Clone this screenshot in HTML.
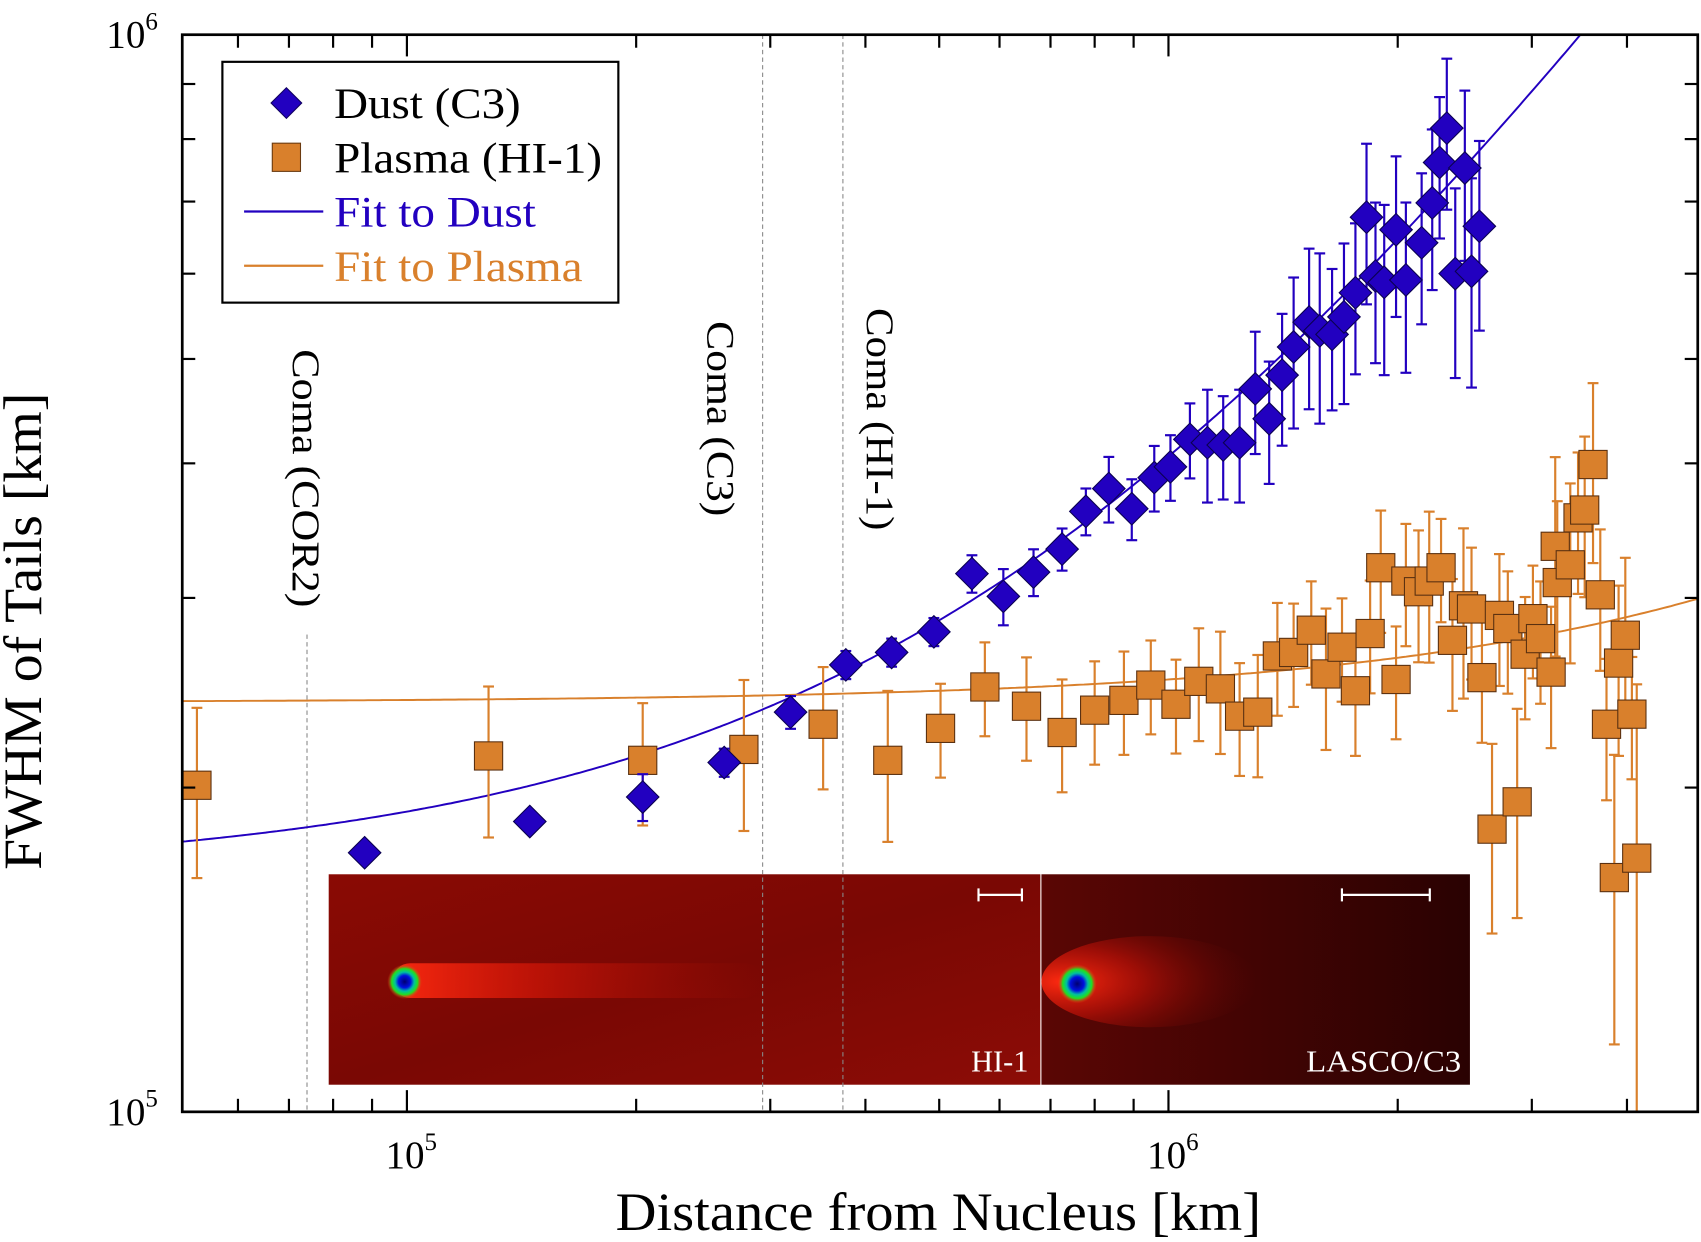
<!DOCTYPE html>
<html><head><meta charset="utf-8"><style>
html,body{margin:0;padding:0;background:#fff;}
svg{display:block;}
text{font-family:"Liberation Serif",serif;}
</style></head><body>
<svg id="chart" width="1701" height="1242" viewBox="0 0 1568 1145" preserveAspectRatio="none" xmlns="http://www.w3.org/2000/svg">
<defs>
<linearGradient id="hiBg" x1="0" y1="0" x2="1" y2="1"><stop offset="0" stop-color="#8a0a04"/><stop offset="0.5" stop-color="#7a0804"/><stop offset="1" stop-color="#8c0c06"/></linearGradient>
<linearGradient id="c3Bg" x1="0" y1="0" x2="1" y2="0"><stop offset="0" stop-color="#5a0604"/><stop offset="1" stop-color="#2a0202"/></linearGradient>
<linearGradient id="tail1" x1="0" y1="0" x2="1" y2="0"><stop offset="0" stop-color="#ff2a10" stop-opacity="0.95"/><stop offset="0.4" stop-color="#e01808" stop-opacity="0.6"/><stop offset="1" stop-color="#b01006" stop-opacity="0"/></linearGradient>
<radialGradient id="tail2" cx="0.1" cy="0.5" r="0.9"><stop offset="0" stop-color="#ff2a10"/><stop offset="0.4" stop-color="#c01208" stop-opacity="0.7"/><stop offset="1" stop-color="#600604" stop-opacity="0"/></radialGradient>
<radialGradient id="head" cx="0.5" cy="0.5" r="0.5"><stop offset="0" stop-color="#000070"/><stop offset="0.35" stop-color="#0010e0"/><stop offset="0.55" stop-color="#00c0a0"/><stop offset="0.75" stop-color="#20e020"/><stop offset="1" stop-color="#ff3010" stop-opacity="0"/></radialGradient>
</defs>
<g id="insets">
 <rect x="303" y="806" width="656" height="194" fill="url(#hiBg)"/>
 <rect x="362" y="888" width="340" height="32" fill="url(#tail1)" rx="16"/>
 <circle cx="373" cy="905" r="16" fill="url(#head)"/>
 <line x1="902" y1="825" x2="942" y2="825" stroke="#fff" stroke-width="2"/><line x1="902" y1="819" x2="902" y2="831" stroke="#fff" stroke-width="2"/><line x1="942" y1="819" x2="942" y2="831" stroke="#fff" stroke-width="2"/>
 <text x="948" y="988" font-size="28" fill="#fff" text-anchor="end">HI-1</text>
 <rect x="960" y="806" width="395" height="194" fill="url(#c3Bg)"/>
 <ellipse cx="1060" cy="905" rx="100" ry="42" fill="url(#tail2)"/>
 <circle cx="993" cy="907" r="18" fill="url(#head)"/>
 <line x1="1237" y1="825" x2="1318" y2="825" stroke="#fff" stroke-width="2"/><line x1="1237" y1="819" x2="1237" y2="831" stroke="#fff" stroke-width="2"/><line x1="1318" y1="819" x2="1318" y2="831" stroke="#fff" stroke-width="2"/>
 <text x="1347" y="988" font-size="28" fill="#fff" text-anchor="end" textLength="143" lengthAdjust="spacingAndGlyphs">LASCO/C3</text>
</g>
<g id="coma">
 <line x1="283" y1="585" x2="283" y2="1025" stroke="#888" stroke-width="1" stroke-dasharray="4,3"/>
 <line x1="703" y1="32" x2="703" y2="1025" stroke="#888" stroke-width="1" stroke-dasharray="4,3"/>
 <line x1="777" y1="32" x2="777" y2="1025" stroke="#888" stroke-width="1" stroke-dasharray="4,3"/>
 <text transform="translate(270,322) rotate(90)" font-size="36" textLength="238" lengthAdjust="spacingAndGlyphs">Coma  (COR2)</text>
 <text transform="translate(652,296) rotate(90)" font-size="36" textLength="180" lengthAdjust="spacingAndGlyphs">Coma (C3)</text>
 <text transform="translate(799,284) rotate(90)" font-size="36" textLength="205" lengthAdjust="spacingAndGlyphs">Coma (HI-1)</text>
</g>
<g id="fits"></g>
<g id="plasma"></g>
<g id="dust"></g>
<g id="axes"></g>
<g id="legend">
 <rect x="205" y="57" width="365" height="222" fill="#fff" stroke="#000" stroke-width="2"/>
 <g><rect x="254" y="85" width="20" height="20" transform="rotate(45 264 95)" fill="#2200c0" stroke="#100060"/><text x="308" y="109" font-size="40" textLength="172" lengthAdjust="spacingAndGlyphs">Dust (C3)</text></g>
 <g><rect x="251" y="132" width="26" height="26" fill="#d9802c" stroke="#6a3a10"/><text x="308" y="159" font-size="40" textLength="247" lengthAdjust="spacingAndGlyphs">Plasma (HI-1)</text></g>
 <g><line x1="225" y1="195" x2="298" y2="195" stroke="#2200c0" stroke-width="2"/><text x="308" y="209" font-size="40" fill="#2200c0" textLength="186" lengthAdjust="spacingAndGlyphs">Fit to Dust</text></g>
 <g><line x1="225" y1="245" x2="298" y2="245" stroke="#d9802c" stroke-width="2"/><text x="308" y="259" font-size="40" fill="#d9802c" textLength="229" lengthAdjust="spacingAndGlyphs">Fit to Plasma</text></g>
</g>
<text x="865" y="1134" font-size="50" text-anchor="middle" textLength="595" lengthAdjust="spacingAndGlyphs">Distance from Nucleus [km]</text>
<text transform="translate(38,582) rotate(-90)" font-size="50" text-anchor="middle" textLength="440" lengthAdjust="spacingAndGlyphs">FWHM of Tails [km]</text>
</svg>
<script>
const dustDist = [88000,145000,204000,261000,319000,377000,433000,492000,552000,607000,665000,725000,779000,835000,895000,958000,1006000,1067000,1125000,1180000,1240000,1300000,1356000,1410000,1460000,1530000,1580000,1640000,1700000,1760000,1820000,1870000,1920000,1990000,2050000,2150000,2220000,2270000,2320000,2380000,2450000,2500000,2560000];
const dustFwhm = [174000,186000,196000,211000,235000,260000,267000,279000,316000,301000,317000,333000,361000,379000,363000,388000,397000,421000,418000,416000,418000,469000,440000,483000,513000,541000,531000,527000,547000,576000,677000,597000,589000,659000,592000,641000,698000,761000,819000,600000,752000,603000,664000];
const dustErrFrac = [0,0,0.05,0.03,0.035,0.03,0.03,0.03,0.04,0.06,0.05,0.045,0.05,0.07,0.065,0.07,0.07,0.08,0.12,0.11,0.12,0.13,0.13,0.14,0.16,0.17,0.18,0.15,0.17,0.16,0.17,0.17,0.18,0.17,0.18,0.16,0.17,0.15,0.16,0.2,0.18,0.22,0.2];
const plasmaDist = [53000,128000,204000,277000,352000,428000,502000,574000,651000,725000,800000,874000,948000,1023000,1096000,1170000,1240000,1310000,1390000,1460000,1540000,1610000,1690000,1760000,1840000,1900000,1990000,2050000,2130000,2200000,2280000,2360000,2440000,2500000,2580000,2660000,2720000,2790000,2870000,2940000,3010000,3080000,3180000,3240000,3220000,3370000,3450000,3520000,3610000,3690000,3760000,3850000,3900000,3980000,4060000,4120000];
const plasmaFwhm = [201000,214000,212000,217000,229000,212000,227000,248000,238000,225000,236000,241000,249000,239000,251000,247000,233000,235000,265000,267000,280000,255000,270000,246000,278000,320000,252000,311000,304000,311000,320000,274000,295000,293000,253000,183000,289000,281000,194000,266000,287000,275000,256000,310000,335000,322000,356000,362000,399000,302000,229000,165000,261000,277000,234000,172000];
const plasmaErrFrac = [0.18,0.16,0.13,0.16,0.13,0.16,0.10,0.10,0.11,0.12,0.11,0.11,0.10,0.10,0.12,0.13,0.12,0.13,0.12,0.11,0.11,0.15,0.11,0.13,0.12,0.13,0.12,0.13,0.14,0.16,0.11,0.14,0.18,0.14,0.13,0.2,0.14,0.13,0.22,0.13,0.12,0.13,0.15,0.19,0.21,0.19,0.15,0.17,0.19,0.15,0.15,0.3,0.18,0.18,0.13,0.45];
const dustFitIntercept = 166000, dustFitSlope = 0.24;
const plasmaFitIntercept = 240000, plasmaFitSlope = 0.012;
const xTickMajor = [100000,1000000];
const xTickMajorLabels = ["5","6"];
const xTickMinor = [60000,70000,80000,90000,200000,300000,400000,500000,600000,700000,800000,900000,2000000,3000000,4000000];
const yTickMajorLabels = ["5","6"];
const yTickMinor = [200000,300000,400000,500000,600000,700000,800000,900000];

const NS = "http://www.w3.org/2000/svg";
const L = 168, R = 1565, T = 32, B = 1025;
const X0 = 4.705, X1 = 6.695;
function xs(v){ return L + (Math.log10(v) - X0) / (X1 - X0) * (R - L); }
function ys(v){ return B - (Math.log10(v) - 5) * (B - T); }
function mk(tag, attrs, parent){ const e = document.createElementNS(NS, tag); for (const k in attrs) e.setAttribute(k, attrs[k]); parent.appendChild(e); return e; }

const fits = document.getElementById('fits');
const clip = mk('clipPath', {id:'plotClip'}, document.querySelector('defs'));
mk('rect', {x:L, y:T, width:R-L, height:B-T}, clip);
fits.setAttribute('clip-path', 'url(#plotClip)');
function fitPath(a, b){ let d = ''; for (let i = 0; i <= 400; i++){ const lx = X0 + (X1 - X0) * i / 400; const x = Math.pow(10, lx); d += (i ? 'L' : 'M') + xs(x).toFixed(1) + ',' + ys(a + b * x).toFixed(1); } return d; }
const fd = mk('path', {d: fitPath(dustFitIntercept, dustFitSlope), fill:'none', stroke:'#2200c0', 'stroke-width':1.8}, fits);


const fp = mk('path', {d: fitPath(plasmaFitIntercept, plasmaFitSlope), fill:'none', stroke:'#d9802c', 'stroke-width':1.8}, fits);



function errBar(g, x, y, e, col){
  if (e <= 0) return;
  const cx = xs(x), y1 = ys(y * (1 + e)), y2 = ys(Math.max(y * (1 - e), 1000));
  mk('line', {x1:cx, y1:y1, x2:cx, y2:Math.min(y2, B), stroke:col, 'stroke-width':2}, g);
  mk('line', {x1:cx-5, y1:y1, x2:cx+5, y2:y1, stroke:col, 'stroke-width':2}, g);
  if (y2 < B) mk('line', {x1:cx-5, y1:y2, x2:cx+5, y2:y2, stroke:col, 'stroke-width':2}, g);
}
const pg = document.getElementById('plasma');


plasmaDist.forEach((d, i) => errBar(pg, d, plasmaFwhm[i], plasmaErrFrac[i], '#d9802c'));
plasmaDist.forEach((d, i) => {
  const r = mk('rect', {x: xs(d) - 13, y: ys(plasmaFwhm[i]) - 13, width:26, height:26, fill:'#d9802c', stroke:'#5a3010', 'stroke-width':1}, pg);
  
  
});
const dg = document.getElementById('dust');


dustDist.forEach((d, i) => errBar(dg, d, dustFwhm[i], dustErrFrac[i], '#2200c0'));
dustDist.forEach((d, i) => {
  const cx = xs(d), cy = ys(dustFwhm[i]), s = 15;
  const p = mk('polygon', {points: `${cx},${cy-s} ${cx+s},${cy} ${cx},${cy+s} ${cx-s},${cy}`, fill:'#2200c0', stroke:'#0a0050', 'stroke-width':1}, dg);
  
  
});
const ax = document.getElementById('axes');


mk('rect', {x:L, y:T, width:R-L, height:B-T, fill:'none', stroke:'#000', 'stroke-width':2.5}, ax);
xTickMajor.forEach((v, i) => {
  const x = xs(v);
  mk('line', {x1:x, y1:B, x2:x, y2:B-20, stroke:'#000', 'stroke-width':2}, ax);
  mk('line', {x1:x, y1:T, x2:x, y2:T+20, stroke:'#000', 'stroke-width':2}, ax);
  const t = mk('text', {x:x+4, y:B+52, 'font-size':36, 'text-anchor':'middle'}, ax);
  
  
  t.textContent = '10';
  const s = mk('tspan', {dy:-17, 'font-size':23}, t); s.textContent = xTickMajorLabels[i];
});
xTickMinor.forEach(v => {
  const x = xs(v);
  mk('line', {x1:x, y1:B, x2:x, y2:B-12, stroke:'#000', 'stroke-width':2}, ax);
  mk('line', {x1:x, y1:T, x2:x, y2:T+12, stroke:'#000', 'stroke-width':2}, ax);
});
yTickMinor.forEach(v => {
  const y = ys(v);
  mk('line', {x1:L, y1:y, x2:L+12, y2:y, stroke:'#000', 'stroke-width':2}, ax);
  mk('line', {x1:R, y1:y, x2:R-12, y2:y, stroke:'#000', 'stroke-width':2}, ax);
});
[[B + 12, 0], [T + 12, 1]].forEach(([y, i]) => {
  const t = mk('text', {x:98, y:y, 'font-size':36}, ax);
  
  
  t.textContent = '10';
  const s = mk('tspan', {dy:-17, 'font-size':23}, t); s.textContent = yTickMajorLabels[i];
});
</script>
</body></html>
